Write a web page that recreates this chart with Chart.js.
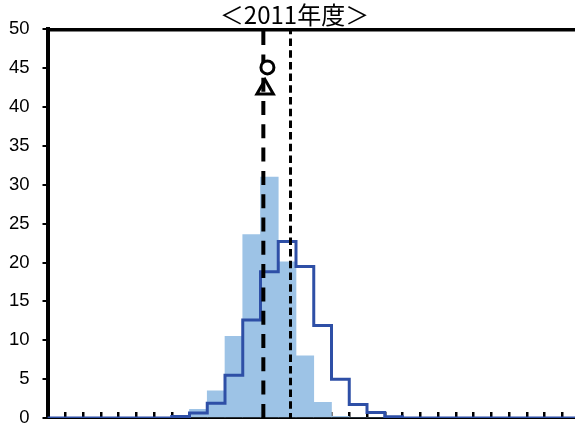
<!DOCTYPE html>
<html>
<head>
<meta charset="utf-8">
<script src="https://cdn.jsdelivr.net/npm/chart.js@4/dist/chart.umd.min.js"></script>
<style>
  html, body { margin: 0; padding: 0; background: #fff; overflow: hidden; }
  canvas { display: block; }
</style>
</head>
<body>
<canvas id="dist" width="580" height="425"></canvas>
<script>
// Share of observations (%) in each of the 30 bins
const bins = [0,1,2,3,4,5,6,7,8,9,10,11,12,13,14,15,16,17,18,19,20,21,22,23,24,25,26,27,28,29];
const barShare  = [0,0,0,0,0,0,0,0,1.1,3.5,10.5,23.6,31.0,20.1,8.0,2.0,0.2,0,0,0,0,0,0,0,0,0,0,0,0,0];
const stepShare = [0,0,0,0,0,0,0,0.2,0.65,1.9,5.5,12.6,18.8,22.7,19.5,11.9,5.0,1.75,0.7,0.15,0,0,0,0,0,0,0,0,0,0];
const yTicks = [0,5,10,15,20,25,30,35,40,45,50];

// Reference markers (bin units on x, percent on y)
const dashedRefX = 12.16;
const dottedRefX = 13.69;
const circleMark = { x: 12.39, y: 45.1 };
const triangleMark = { x: 12.26, y: 42.3 };

const titleText = '＜2011年度＞';

// Bars sit in the middle of each bin; the step line runs along bin edges
const barPoints = bins.map((b, i) => ({ x: b + 0.5, y: barShare[i] }));
const stepPoints = bins.map((b, i) => ({ x: b, y: stepShare[i] }));
stepPoints.push({ x: bins.length, y: stepShare[stepShare.length - 1] });

const yMax = yTicks[yTicks.length - 1];

new Chart(document.getElementById('dist'), {
  type: 'line',
  data: {
    datasets: [
      {
        type: 'scatter',
        data: [circleMark],
        pointStyle: 'circle',
        pointRadius: 6.5,
        pointBorderWidth: 3,
        pointBorderColor: '#000',
        pointBackgroundColor: '#fff',
        showLine: false,
        order: 0
      },
      {
        type: 'scatter',
        data: [triangleMark],
        pointStyle: 'triangle',
        pointRadius: 9.5,
        pointBorderWidth: 3,
        pointBorderColor: '#000',
        pointBackgroundColor: 'rgba(0,0,0,0)',
        showLine: false,
        order: 1
      },
      {
        data: [{ x: dashedRefX, y: yMax }, { x: dashedRefX, y: 0 }],
        borderColor: '#000',
        borderWidth: 4,
        borderDash: [14, 9.3],
        borderDashOffset: 21.5,
        pointRadius: 0,
        order: 2
      },
      {
        data: [{ x: dottedRefX, y: yMax }, { x: dottedRefX, y: 0 }],
        borderColor: '#000',
        borderWidth: 3,
        borderDash: [7.5, 4.2],
        borderDashOffset: 2.5,
        pointRadius: 0,
        order: 3
      },
      {
        data: stepPoints,
        stepped: 'before',
        borderColor: '#2E4FA6',
        borderWidth: 3,
        pointRadius: 0,
        fill: false,
        order: 4
      },
      {
        type: 'bar',
        data: barPoints,
        backgroundColor: '#9DC3E6',
        borderWidth: 0,
        barPercentage: 1,
        categoryPercentage: 1,
        order: 5
      }
    ]
  },
  options: {
    responsive: false,
    devicePixelRatio: 1,
    animation: false,
    layout: { autoPadding: false, padding: { left: 9, right: 0, top: 0, bottom: 0 } },
    plugins: {
      legend: { display: false },
      tooltip: { enabled: false },
      title: {
        display: true,
        text: titleText,
        color: '#000',
        font: { family: '"Noto Sans CJK JP", "Liberation Sans", sans-serif', size: 24, weight: 'normal', lineHeight: 1.2 },
        padding: { top: 0, bottom: 0.5 }
      }
    },
    scales: {
      x: {
        type: 'linear',
        position: 'bottom',
        min: 0,
        max: bins.length,
        offset: false,
        ticks: { display: false, stepSize: 1 },
        grid: {
          display: true,
          offset: false,
          drawOnChartArea: false,
          drawTicks: true,
          tickLength: -6,
          color: '#000',
          lineWidth: 2.5
        },
        border: { display: true, color: '#000', width: 2 },
        afterFit: (s) => { s.height = 7; s.paddingLeft = 0; s.paddingRight = 0; }
      },
      xTop: {
        type: 'linear',
        position: 'top',
        min: 0,
        max: bins.length,
        ticks: { display: false },
        grid: { display: true, drawOnChartArea: false, drawTicks: false },
        border: { display: true, color: '#000', width: 3.5 },
        afterFit: (s) => { s.height = 0; s.paddingLeft = 0; s.paddingRight = 0; }
      },
      y: {
        min: 0,
        max: yMax,
        afterBuildTicks: (s) => { s.ticks = yTicks.map(v => ({ value: v })); },
        ticks: {
          color: '#000',
          padding: 13,
          font: { family: '"Liberation Sans", Arial, sans-serif', size: 18.5 }
        },
        grid: {
          display: true,
          drawOnChartArea: false,
          drawTicks: true,
          tickLength: 5,
          color: '#000',
          lineWidth: 2
        },
        border: { display: true, color: '#000', width: 4 },
        afterFit: (s) => { s.width = 38.5; s.paddingTop = 0; s.paddingBottom = 0; }
      }
    }
  }
});
</script>
</body>
</html>
